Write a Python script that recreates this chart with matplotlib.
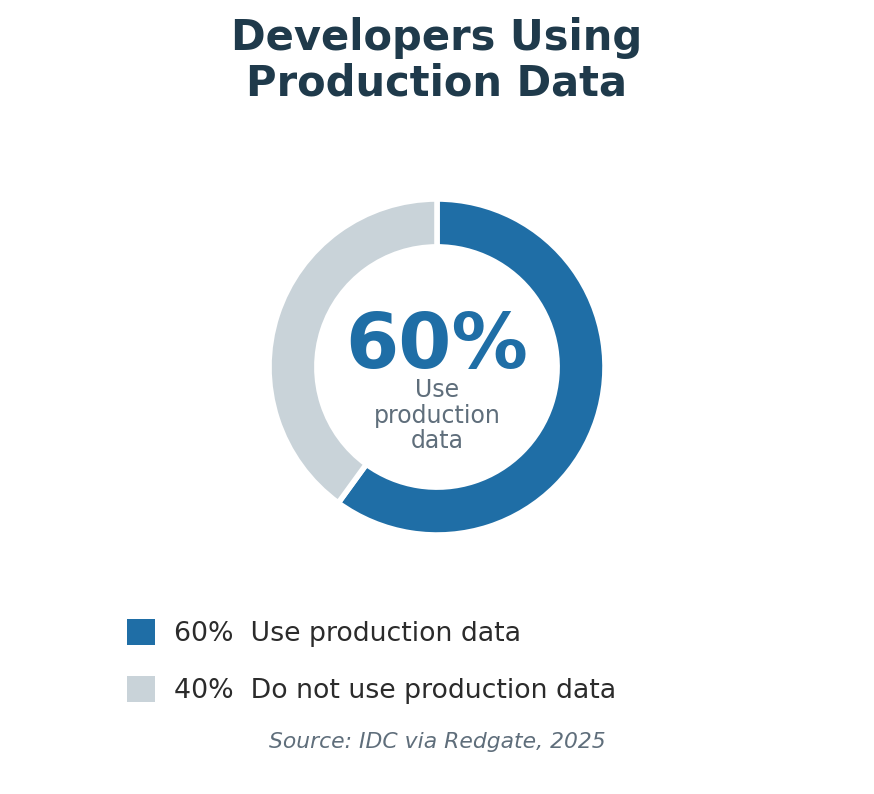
import matplotlib
matplotlib.use("Agg")
import matplotlib.pyplot as plt
from matplotlib.patches import Patch

# Data
categories = ["Use production data", "Do not use production data"]
values = [60, 40]
colors = ["#1f6ea6", "#c9d3d9"]
title = "Developers Using\nProduction Data"
center_value = "60%"
center_label = "Use\nproduction\ndata"
source = "Source: IDC via Redgate, 2025"

W, H = 874, 794
fig = plt.figure(figsize=(W / 100, H / 100), dpi=100)
fig.patch.set_facecolor("white")

# donut axes
cx, cy, R = 437, 367, 168
ax = fig.add_axes([(cx - R) / W, 1 - (cy + R) / H, 2 * R / W, 2 * R / H])
ax.pie(values, colors=colors, startangle=90, counterclock=False, radius=1.0,
       wedgeprops=dict(width=0.285, edgecolor="white", linewidth=4))
ax.set_xlim(-1, 1)
ax.set_ylim(-1, 1)
ax.set_aspect("equal")
ax.axis("off")

ax.text(0, 0.12, center_value, ha="center", va="center", fontsize=55,
        fontweight="bold", color=colors[0])
ax.text(0, -0.29, center_label, ha="center", va="center", fontsize=17,
        color="#5f6e7b", linespacing=1.08)

fig.text(0.5, 1 - 61 / H, title, ha="center", va="center", fontsize=30,
         fontweight="bold", color="#1f3a4b", linespacing=1.1)

handles = [Patch(facecolor=c, edgecolor="none") for c in colors]
labels = [f"{v}%  {c}" for v, c in zip(values, categories)]
fig.legend(handles, labels, loc="upper left", bbox_to_anchor=(127 / W, 1 - 619 / H),
           frameon=False, fontsize=19.3, handlelength=1.05, handleheight=1.12,
           handletextpad=0.72, labelspacing=1.08, borderpad=0, borderaxespad=0,
           labelcolor="#2b2b2b")

fig.text(437 / W, 1 - 742 / H, source, ha="center", va="center", fontsize=15.75,
         style="italic", color="#5f6e7b")

fig.savefig("out.png", dpi=100, facecolor="white")
